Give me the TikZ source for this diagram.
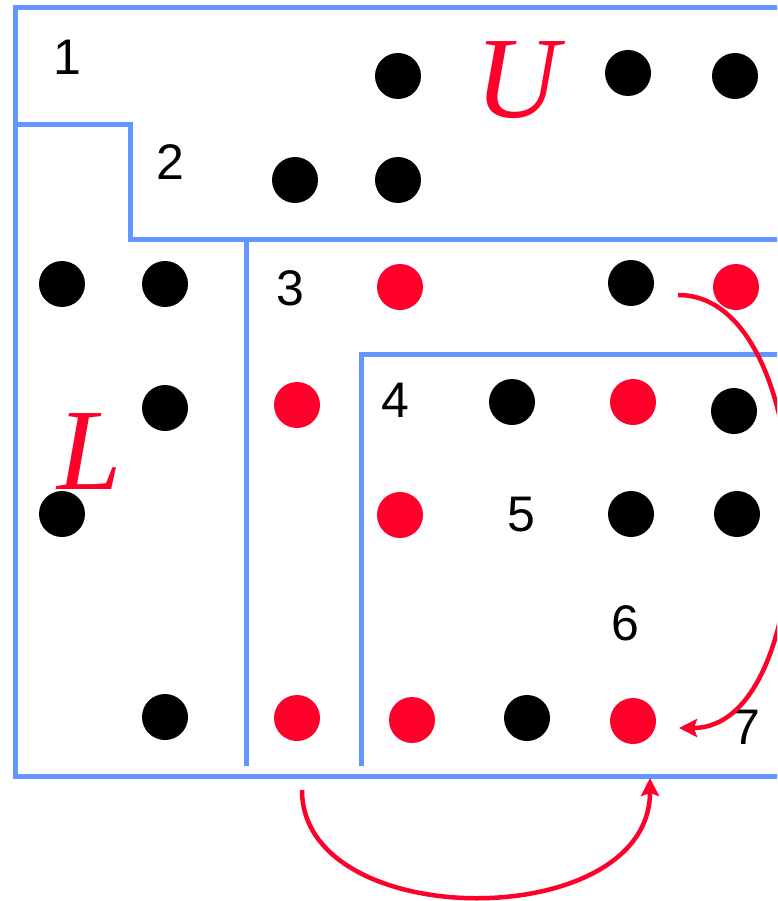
\documentclass[tikz,border=0pt]{standalone}
\usepackage{fontspec}
\setmainfont{Liberation Sans}
\newfontfamily\serifit{Liberation Serif}
\usetikzlibrary{arrows.meta}
\definecolor{bl}{RGB}{100,150,255}
\definecolor{rd}{RGB}{255,0,43}
\tikzset{
  wall/.style={draw=bl, line width=5pt, line cap=rect},
  bdot/.style={circle, fill=black, minimum size=46pt, inner sep=0pt},
  rdot/.style={circle, fill=rd, minimum size=46pt, inner sep=0pt},
  num/.style={font=\fontsize{50}{60}\selectfont, inner sep=0pt},
  big/.style={font=\fontsize{116}{120}\serifit\itshape, text=rd, inner sep=0pt},
  arr/.style={draw=rd, line width=4.5pt, -{Stealth[length=18pt,width=18pt,inset=3pt]}}
}
\begin{document}
\begin{tikzpicture}[x=1pt,y=-1pt]
\useasboundingbox (0,0) rectangle (777,901);
\clip (0,0) rectangle (777,901);
% walls
\draw[wall] (790,8) -- (15,8) -- (15,776) -- (790,776);
\draw[wall, line cap=butt] (15,125) -- (130,125) -- (130,239) -- (790,239);
\draw[wall, line cap=butt] (246,239) -- (246,766);
\draw[wall, line cap=butt] (790,354) -- (361,354) -- (361,766);
% dots
\node[bdot] (a1) at (398,76) {};
\node[bdot] (a2) at (628,73) {};
\node[bdot] (a3) at (735,76) {};
\node[bdot] (b1) at (295,180) {};
\node[bdot] (b2) at (398,180) {};
\node[bdot] (c1) at (62,284) {};
\node[bdot] (c2) at (165,284) {};
\node[rdot] (c3) at (400,287) {};
\node[bdot] (c4) at (631,283) {};
\node[rdot] (c5) at (736,287) {};
\node[bdot] (d1) at (165,408) {};
\node[rdot] (d2) at (297,405) {};
\node[bdot] (d3) at (512,402) {};
\node[rdot] (d4) at (633,402) {};
\node[bdot] (d5) at (734,411) {};
\node[bdot] (e1) at (62,514) {};
\node[rdot] (e2) at (400,515) {};
\node[bdot] (e3) at (631,514) {};
\node[bdot] (e4) at (737,514) {};
\node[bdot] (f1) at (165,717) {};
\node[rdot] (f2) at (297,718) {};
\node[rdot] (f3) at (412,720) {};
\node[bdot] (f4) at (527,718) {};
\node[rdot] (f5) at (633,721) {};
% numbers
\node[num] (n1) at (67,57) {1};
\node[num] (n2) at (170,162) {2};
\node[num] (n3) at (290,288) {3};
\node[num] (n4) at (395,400) {4};
\node[num] (n5) at (521,515) {5};
\node[num] (n6) at (625,623) {6};
\node[num] (n7) at (746,727) {7};
% letters
\node[big] (U) at (517,80) {U};
\node[big] (L) at (90,452) {L};
% arrows
\coordinate (s1) at (678,295);
\coordinate (t1) at (679,728);
\coordinate (s2) at (302,790);
\coordinate (t2) at (650,778);
\draw[arr] (s1) .. controls (826,295) and (826,728) .. (t1);
\draw[arr] (s2) .. controls (302,934) and (650,934) .. (t2);
\end{tikzpicture}
\end{document}
